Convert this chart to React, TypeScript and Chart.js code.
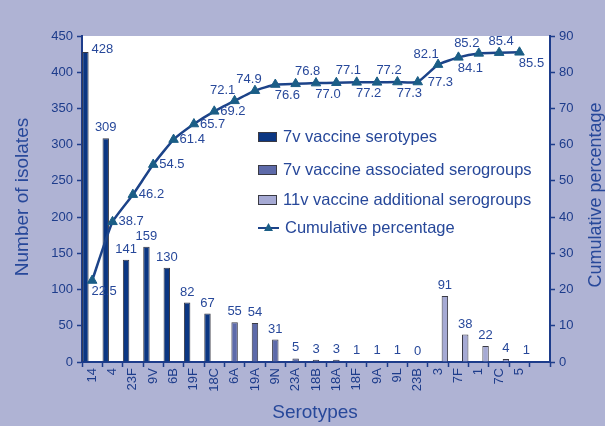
import React, { useEffect, useRef } from 'react';
import { Chart, registerables } from 'chart.js';

Chart.register(...registerables);

const serotypes = ['14', '4', '23F', '9V', '6B', '19F', '18C', '6A', '19A', '9N', '23A', '18B', '18A', '18F', '9A', '9L', '23B', '3', '7F', '1', '7C', '5', ''];

const vaccine7v = [428, 309, 141, 159, 130, 82, 67, null, null, null, null, null, null, null, null, null, null, null, null, null, null, null, null];
const vaccine7vAssociated = [null, null, null, null, null, null, null, 55, 54, 31, 5, 3, 3, 1, 1, 1, 0, null, null, null, null, null, null];
const vaccine11vAdditional = [null, null, null, null, null, null, null, null, null, null, null, null, null, null, null, null, null, 91, 38, 22, 4, 1, null];
const cumulativePct = [22.5, 38.7, 46.2, 54.5, 61.4, 65.7, 69.2, 72.1, 74.9, 76.6, 76.8, 77.0, 77.1, 77.2, 77.2, 77.3, 77.3, 82.1, 84.1, 85.2, 85.4, 85.5, null];

const leftMax = 450;
const leftStep = 50;
const rightMax = 90;
const rightStep = 10;

const seriesNames = ['7v vaccine serotypes', '7v vaccine associated serogroups', '11v vaccine additional serogroups', 'Cumulative percentage'];

// label placement style for cumulative labels (R = right, AL = above-left, A = above, AR = above-right, BR = below-right)
const cumLabelPlace = ['BR', 'R', 'R', 'R', 'R', 'R', 'R', 'AL', 'AL2', 'BR', 'AR', 'BR', 'AR', 'BR', 'AR', 'BR', 'R2', 'AL', 'BR', 'AL', 'A', 'BR'];

const FONT = '"Liberation Sans", Arial, sans-serif';
const BG = '#afb3d4';
const NAVY = '#0b3682';
const SLATE = '#5d6aa9';
const LIGHT = '#a6aad4';
const BORDER = '#3a3a44';
const LINE = '#1c4389';
const MARKER = '#1b5e86';
const AXIS = '#1d3c8b';
const TEXT = '#27489a';

const placeOffsets: Record<string, [number, number, CanvasTextAlign]> = {
  R: [6, 0, 'left'],
  R2: [10, 0, 'left'],
  BR: [12, 11, 'center'],
  AL: [-12, -10, 'center'],
  AL2: [-6, -11, 'center'],
  AR: [12, -12, 'center'],
  A: [2, -11, 'center'],
};

const decor = {
  id: 'decor',
  beforeDraw(chart: any) {
    const { ctx, chartArea: a, width, height } = chart;
    ctx.save();
    ctx.fillStyle = BG;
    ctx.fillRect(0, 0, width, height);
    ctx.fillStyle = '#ffffff';
    ctx.fillRect(a.left, a.top, a.right - a.left, a.bottom - a.top);
    ctx.restore();
  },
  afterDatasetsDraw(chart: any) {
    const { ctx, chartArea: a } = chart;
    ctx.save();
    ctx.fillStyle = TEXT;
    ctx.font = `13px ${FONT}`;
    [0, 1, 2].forEach((di) => {
      const meta = chart.getDatasetMeta(di);
      const data = chart.data.datasets[di].data;
      meta.data.forEach((el: any, i: number) => {
        const v = data[i];
        if (v === null || v === undefined) return;
        const p = el.getProps(['x', 'y', 'width'], true);
        if (p.y - 20 < a.top) {
          ctx.textAlign = 'left';
          ctx.textBaseline = 'middle';
          ctx.fillText(String(v), p.x + p.width / 2 + 3, p.y - 3);
        } else {
          ctx.textAlign = 'center';
          ctx.textBaseline = 'bottom';
          ctx.fillText(String(v), p.x, p.y - 4);
        }
      });
    });
    const lmeta = chart.getDatasetMeta(3);
    lmeta.data.forEach((el: any, i: number) => {
      const v = cumulativePct[i];
      if (v === null || v === undefined) return;
      const p = el.getProps(['x', 'y'], true);
      const [dx, dy, align] = placeOffsets[cumLabelPlace[i]] || placeOffsets.R;
      ctx.textAlign = align;
      ctx.textBaseline = 'middle';
      ctx.fillText(v.toFixed(1), p.x + dx, p.y + dy);
    });
    ctx.restore();
  },
  afterDraw(chart: any) {
    const { ctx } = chart;
    ctx.save();
    ctx.fillStyle = TEXT;
    ctx.textAlign = 'center';
    ctx.textBaseline = 'middle';
    ctx.save();
    ctx.font = `19px ${FONT}`;
    ctx.translate(23, 197);
    ctx.rotate(-Math.PI / 2);
    ctx.fillText('Number of isolates', 0, 0);
    ctx.restore();
    ctx.save();
    ctx.font = `18px ${FONT}`;
    ctx.translate(596, 195);
    ctx.rotate(-Math.PI / 2);
    ctx.fillText('Cumulative percentage', 0, 0);
    ctx.restore();
    ctx.font = `19px ${FONT}`;
    ctx.fillText('Serotypes', 315, 413);

    // legend
    const rows = [
      { y: 137, fill: NAVY },
      { y: 170, fill: SLATE },
      { y: 200, fill: LIGHT },
      { y: 228, fill: null },
    ];
    ctx.font = `16.5px ${FONT}`;
    ctx.textAlign = 'left';
    rows.forEach((r, i) => {
      if (r.fill) {
        ctx.fillStyle = r.fill;
        ctx.fillRect(258, r.y - 5, 19, 10);
        ctx.strokeStyle = BORDER;
        ctx.lineWidth = 1;
        ctx.strokeRect(258.5, r.y - 4.5, 18, 9);
      } else {
        ctx.strokeStyle = LINE;
        ctx.lineWidth = 2;
        ctx.beginPath();
        ctx.moveTo(258, r.y);
        ctx.lineTo(279, r.y);
        ctx.stroke();
        ctx.fillStyle = MARKER;
        ctx.beginPath();
        ctx.moveTo(268.5, r.y - 5);
        ctx.lineTo(273, r.y + 3);
        ctx.lineTo(264, r.y + 3);
        ctx.closePath();
        ctx.fill();
      }
      ctx.fillStyle = TEXT;
      ctx.fillText(seriesNames[i], i === 3 ? 285 : 283, r.y);
    });
    ctx.restore();
  },
};

export default function App() {
  const ref = useRef<HTMLCanvasElement | null>(null);
  useEffect(() => {
    if (!ref.current) return;
    const barCommon = {
      type: 'bar' as const,
      yAxisID: 'y',
      borderColor: BORDER,
      borderWidth: 1,
      barPercentage: 0.95,
      categoryPercentage: 1.0,
      order: 2,
    };
    const chart = new Chart(ref.current, {
      type: 'bar',
      data: {
        labels: serotypes,
        datasets: [
          { ...barCommon, label: seriesNames[0], data: vaccine7v, backgroundColor: NAVY },
          { ...barCommon, label: seriesNames[1], data: vaccine7vAssociated, backgroundColor: SLATE },
          { ...barCommon, label: seriesNames[2], data: vaccine11vAdditional, backgroundColor: LIGHT },
          {
            type: 'line',
            label: seriesNames[3],
            data: cumulativePct,
            yAxisID: 'y1',
            borderColor: LINE,
            borderWidth: 2.5,
            tension: 0.15,
            pointStyle: 'triangle',
            pointRadius: 5.5,
            pointBackgroundColor: MARKER,
            pointBorderColor: MARKER,
            pointBorderWidth: 1,
            order: 1,
          } as any,
        ],
      },
      options: {
        animation: false,
        responsive: false,
        maintainAspectRatio: false,
        layout: { padding: { top: 36, left: 0, right: 0, bottom: 0 } },
        plugins: { legend: { display: false }, tooltip: { enabled: false } },
        scales: {
          x: {
            offset: true,
            grid: { offset: true, drawOnChartArea: false, tickLength: 5, tickColor: AXIS, tickWidth: 1.5 },
            border: { color: AXIS, width: 2 },
            ticks: { autoSkip: false, minRotation: 90, maxRotation: 90, color: AXIS, font: { size: 13, family: FONT }, padding: 1 },
            afterFit: (s: any) => { s.height = 64; },
          },
          y: {
            position: 'left',
            min: 0,
            max: leftMax,
            grid: { drawOnChartArea: false, tickLength: 5, tickColor: AXIS, tickWidth: 1.5 },
            border: { color: AXIS, width: 2 },
            ticks: { stepSize: leftStep, color: AXIS, font: { size: 13, family: FONT }, padding: 4 },
            afterFit: (s: any) => { s.width = 82; },
          },
          y1: {
            position: 'right',
            min: 0,
            max: rightMax,
            grid: { drawOnChartArea: false, tickLength: 5, tickColor: AXIS, tickWidth: 1.5 },
            border: { color: AXIS, width: 2 },
            ticks: { stepSize: rightStep, color: AXIS, font: { size: 13, family: FONT }, padding: 4 },
            afterFit: (s: any) => { s.width = 55; },
          },
        },
      } as any,
      plugins: [decor],
    });
    return () => chart.destroy();
  }, []);
  return (
    <div style={{ position: 'fixed', left: 0, top: 0, width: 605, height: 426 }}>
      <canvas ref={ref} width={605} height={426} style={{ width: 605, height: 426, display: 'block' }} />
    </div>
  );
}
